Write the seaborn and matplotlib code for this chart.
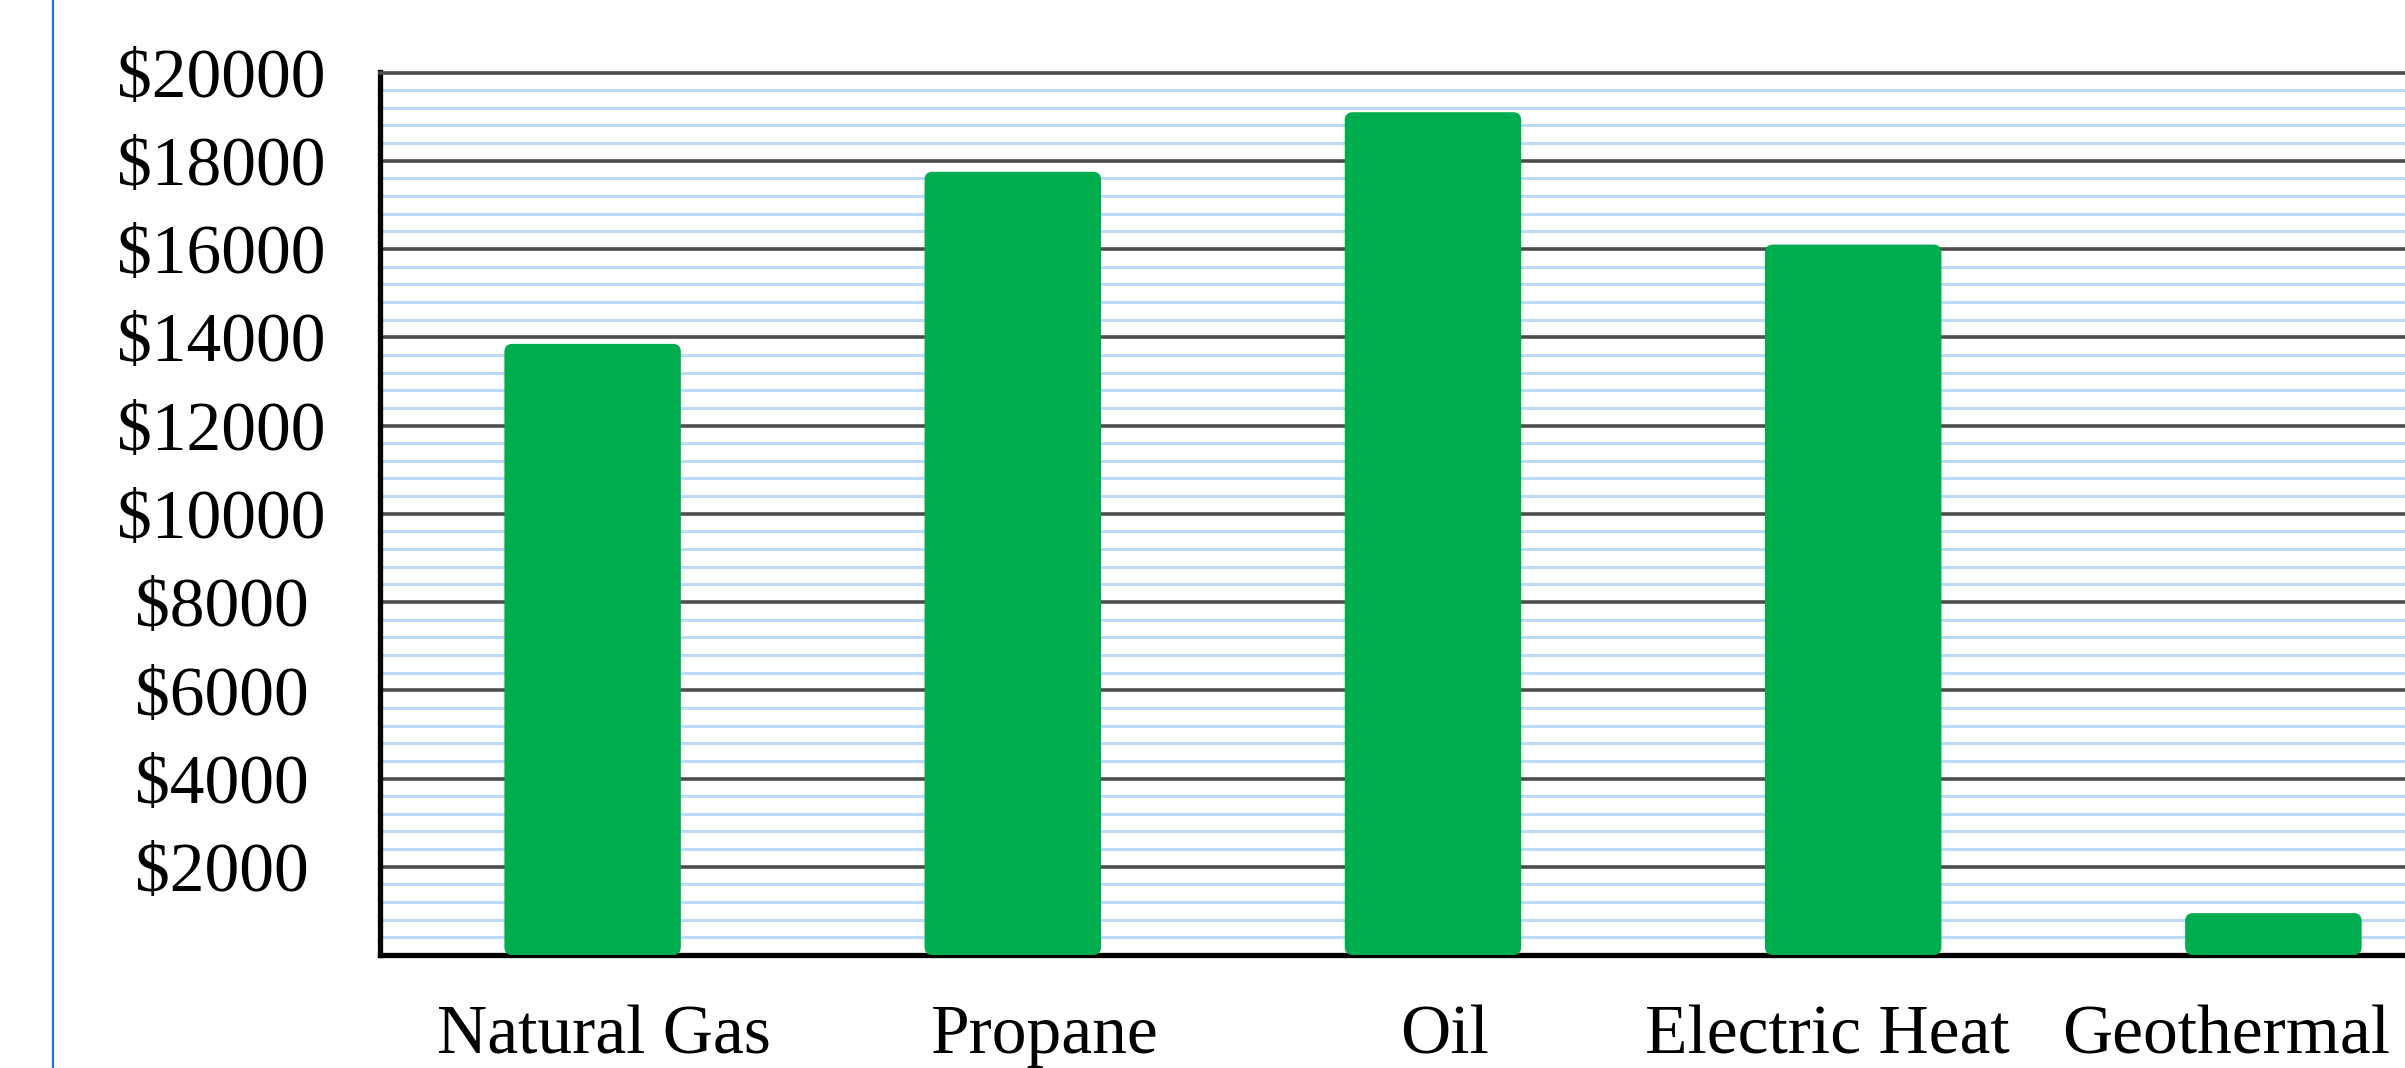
import matplotlib
matplotlib.use("Agg")
import matplotlib.pyplot as plt
import matplotlib.transforms as mtransforms
from matplotlib.patches import FancyBboxPatch, BoxStyle
from matplotlib.lines import Line2D
from matplotlib.ticker import MultipleLocator
import seaborn as sns
import pandas as pd

# Annual heating cost by energy source
categories = ["Natural Gas", "Propane", "Oil", "Electric Heat", "Geothermal"]
annual_cost = [13850, 17750, 19100, 16100, 950]

tick_values = [0, 2000, 4000, 6000, 8000, 10000, 12000, 14000, 16000, 18000, 20000]
tick_labels = ["", "\\$2000", "\\$4000", "\\$6000", "\\$8000", "\\$10000",
               "\\$12000", "\\$14000", "\\$16000", "\\$18000", "\\$20000"]

BAR_GREEN = "#00ad4e"
MAJOR_GRID = "#4d4d4d"
MINOR_GRID = "#bcd9f8"

sns.set_style("white")
plt.rcParams["font.family"] = ["Liberation Serif", "DejaVu Serif"]
plt.rcParams["text.color"] = "black"
plt.rcParams["xtick.color"] = "black"
plt.rcParams["ytick.color"] = "black"

W, H = 2405, 1068
fig = plt.figure(figsize=(W / 100, H / 100), dpi=100)
ax = fig.add_axes([380 / W, 113 / H, 2106 / W, 882.5 / H])

df = pd.DataFrame({"source": categories, "cost": annual_cost})
sns.barplot(data=df, x="source", y="cost", color=BAR_GREEN, saturation=1,
            width=0.42, ax=ax)

ax.set_xlim(-0.506, 4.506)
ax.set_ylim(0, 20000)
ax.set_xlabel("")
ax.set_ylabel("")

# swap the plain rectangles for bars with softly rounded corners
x0, y0 = ax.transData.transform((0, 0))
x1, y1 = ax.transData.transform((1, 1000))
px_per_x = x1 - x0
px_per_y = (y1 - y0) / 1000.0
radius_px = 8
rx = radius_px / px_per_x
ry = radius_px / px_per_y
for bar in list(ax.patches):
    fb = FancyBboxPatch((bar.get_x(), bar.get_y()), bar.get_width(), bar.get_height(),
                        boxstyle=BoxStyle("Round", pad=0, rounding_size=rx),
                        mutation_aspect=ry / rx, facecolor=BAR_GREEN,
                        edgecolor="none", zorder=3)
    ax.add_patch(fb)
    bar.remove()

ax.set_yticks(tick_values, labels=tick_labels, ha="center")
ax.yaxis.set_minor_locator(MultipleLocator(400))
ax.set_axisbelow(True)
ax.grid(which="major", axis="y", color=MAJOR_GRID, lw=2.6)
ax.grid(which="minor", axis="y", color=MINOR_GRID, lw=2.2)
ax.grid(which="both", axis="x", visible=False)

ax.tick_params(axis="y", which="both", length=0, pad=114, labelsize=50,
               labelcolor="black")
ax.tick_params(axis="x", length=0, pad=36, labelsize=50, labelcolor="black")

# category captions sit a little off their bar centres (pixel shifts)
label_shift_px = [11, 32, 12, -26, -47]
for lab, dx in zip(ax.get_xticklabels(), label_shift_px):
    lab.set_transform(lab.get_transform() +
                      mtransforms.ScaledTranslation(dx / 100, 0, fig.dpi_scale_trans))

for side in ("left", "bottom"):
    ax.spines[side].set_color("black")
    ax.spines[side].set_linewidth(3.8)
ax.spines["top"].set_color(MAJOR_GRID)
ax.spines["top"].set_linewidth(2.6)
ax.spines["right"].set_visible(False)

# thin blue rule down the left margin
fig.add_artist(Line2D([53 / W, 53 / W], [0, 1], transform=fig.transFigure,
                      color="#1f78d1", lw=1.6))

fig.savefig("out.png", dpi=100)
